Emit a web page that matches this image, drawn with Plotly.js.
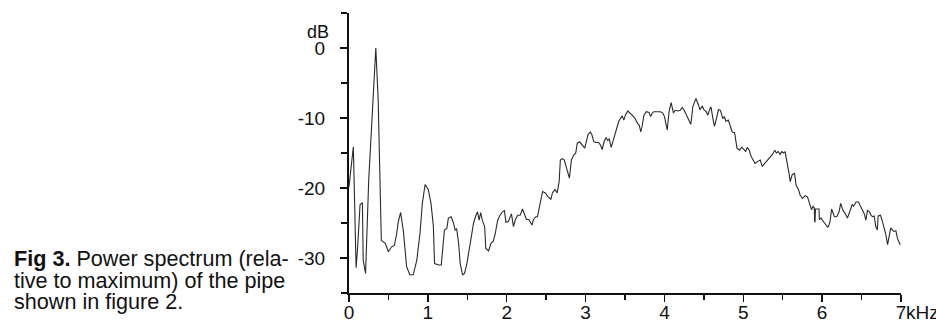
<!DOCTYPE html>
<html>
<head>
<meta charset="utf-8">
<script src="https://cdn.plot.ly/plotly-3.0.1.min.js"></script>
<style>html,body{margin:0;padding:0;background:#fff;}#chart{width:936px;height:320px;}</style>
</head>
<body>
<div id="chart"></div>
<script>
// Frequency (kHz)
const freqKHz = [0,0.055,0.09,0.11,0.14,0.17,0.18,0.21,0.25,0.31,0.34,0.37,0.41,0.46,0.50,0.54,0.575,0.605,0.625,0.655,0.69,0.73,0.77,0.815,0.86,0.90,0.93,0.965,1.005,1.04,1.07,1.085,1.135,1.17,1.185,1.21,1.24,1.26,1.295,1.325,1.345,1.365,1.39,1.41,1.44,1.465,1.495,1.535,1.58,1.61,1.63,1.65,1.67,1.69,1.72,1.735,1.77,1.80,1.83,1.855,1.885,1.915,1.945,1.97,1.99,2.02,2.045,2.06,2.085,2.11,2.14,2.17,2.20,2.225,2.25,2.28,2.32,2.34,2.37,2.39,2.42,2.455,2.49,2.52,2.56,2.58,2.61,2.64,2.665,2.68,2.705,2.73,2.76,2.795,2.82,2.85,2.875,2.895,2.925,2.955,2.99,3.03,3.06,3.08,3.105,3.135,3.165,3.19,3.21,3.235,3.26,3.28,3.30,3.325,3.355,3.39,3.42,3.44,3.465,3.485,3.505,3.535,3.565,3.60,3.63,3.66,3.68,3.70,3.72,3.74,3.77,3.805,3.825,3.845,3.865,3.91,3.95,3.98,4.0,4.035,4.06,4.085,4.115,4.135,4.17,4.20,4.225,4.25,4.28,4.31,4.335,4.36,4.40,4.43,4.45,4.48,4.50,4.53,4.55,4.57,4.59,4.615,4.635,4.66,4.685,4.71,4.74,4.76,4.78,4.81,4.835,4.86,4.89,4.92,4.95,4.98,5.01,5.03,5.05,5.075,5.10,5.13,5.15,5.185,5.215,5.24,5.28,5.30,5.34,5.37,5.40,5.42,5.445,5.465,5.49,5.51,5.53,5.56,5.58,5.595,5.62,5.65,5.67,5.70,5.72,5.75,5.785,5.815,5.84,5.865,5.885,5.90,5.905,5.91,5.915,5.96,5.965,5.985,6.03,6.07,6.08,6.10,6.12,6.155,6.185,6.215,6.235,6.265,6.295,6.32,6.35,6.38,6.40,6.43,6.46,6.485,6.51,6.535,6.555,6.575,6.60,6.62,6.64,6.66,6.68,6.70,6.71,6.74,6.765,6.785,6.805,6.83,6.85,6.87,6.89,6.91,6.935,6.955,6.99];
// Power relative to maximum (dB)
const powerDB = [-19.8,-14.1,-31.4,-28.4,-22.4,-22.1,-30.3,-32.2,-18.9,-6.0,0,-7.4,-27.5,-27.9,-29.1,-28.4,-28.2,-26.5,-24.8,-23.5,-26.2,-31.2,-32.4,-32.4,-30.3,-26.5,-22.2,-19.5,-20.2,-22.2,-25.5,-30.8,-31.0,-31.0,-29.3,-26.0,-25.8,-24.3,-24.1,-25.0,-26.0,-25.8,-27.9,-30.8,-32.4,-32.2,-30.8,-27.9,-25.0,-23.9,-23.4,-24.6,-23.5,-24.6,-25.5,-28.6,-29.0,-27.9,-27.6,-26.5,-24.6,-23.9,-23.4,-23.2,-24.9,-24.8,-24.2,-23.7,-25.5,-24.5,-23.9,-23.9,-23.0,-23.9,-24.5,-24.5,-25.3,-24.5,-24.1,-24.1,-22.2,-20.5,-20.7,-21.2,-21.6,-20.7,-20.2,-20.7,-19.1,-16.0,-15.8,-16.0,-17.2,-18.6,-16.0,-15.3,-15.0,-13.6,-13.4,-13.9,-14.3,-12.4,-12.0,-12.4,-13.4,-13.5,-13.5,-13.9,-14.5,-13.4,-12.8,-13.2,-13.0,-14.2,-12.9,-11.5,-10.5,-10.1,-9.7,-10.3,-9.6,-9.0,-9.3,-9.7,-10.1,-10.8,-11.0,-12.0,-11.0,-9.6,-9.1,-9.2,-9.8,-9.3,-9.1,-9.1,-9.1,-9.3,-9.8,-11.7,-9.0,-7.8,-9.3,-8.9,-9.0,-8.9,-8.5,-8.9,-9.6,-10.3,-10.9,-8.4,-7.2,-8.1,-8.8,-8.3,-8.8,-9.1,-9.6,-8.9,-8.4,-10.1,-11.2,-10.1,-8.8,-8.9,-10.1,-9.8,-10.5,-10.3,-11.2,-12.0,-12.1,-14.3,-14.6,-14.2,-14.5,-14.8,-14.2,-14.6,-15.5,-16.2,-16.5,-16.2,-16.0,-16.9,-16.4,-16.0,-15.6,-15.2,-14.6,-15.0,-14.8,-15.2,-14.8,-15.0,-14.8,-16.5,-17.9,-19.1,-18.1,-17.9,-19.6,-20.2,-21.0,-21.5,-21.1,-21.3,-22.4,-23.1,-22.6,-22.8,-24.8,-24.8,-23.0,-23.0,-24.5,-24.3,-25.0,-25.6,-25.5,-24.8,-23.0,-24.1,-24.1,-23.4,-22.2,-23.2,-23.7,-24.3,-23.4,-22.4,-22.6,-22.0,-22.0,-22.5,-23.2,-23.7,-24.6,-23.2,-23.4,-23.9,-24.1,-24.0,-25.5,-26.0,-24.0,-23.9,-24.8,-25.7,-26.5,-28.1,-27.0,-25.7,-26.0,-26.2,-26.1,-27.2,-28.1];

const xTickVals = [0,1,2,3,4,5,6,7];
const xTickText = ['0','1','2','3','4','5','6','7'];
const yTickVals = [0,-10,-20,-30];
const yTickText = ['0','-10','-20','-30'];
const captionLines = ['<b>Fig 3.</b> Power spectrum (rela-','tive to maximum) of the pipe','shown in figure 2.'];

const FONT = '"Liberation Sans", Arial, Helvetica, sans-serif';
const ink = '#111';

const trace = {
  x: freqKHz, y: powerDB, type: 'scatter', mode: 'lines',
  line: {color: '#2a2a2a', width: 1.1}, hoverinfo: 'skip'
};

const capY = [0.125, 0.0464, -0.031];
const annotations = captionLines.map((t, i) => ({
  text: t, xref: 'paper', yref: 'paper', x: -0.6105, y: capY[i],
  xanchor: 'left', yanchor: 'middle', showarrow: false,
  font: {family: FONT, size: 21.6, color: ink}
}));
annotations.push({text: 'dB', xref: 'paper', yref: 'paper', x: -0.057, y: 0.932,
  xanchor: 'center', yanchor: 'middle', showarrow: false, font: {family: FONT, size: 18, color: ink}});
annotations.push({text: 'kHz', xref: 'x', yref: 'paper', x: 7, y: -0.068, xshift: 3,
  xanchor: 'left', yanchor: 'middle', showarrow: false, font: {family: FONT, size: 19, color: ink}});

const layout = {
  width: 936, height: 320,
  margin: {l: 349, r: 35, t: 13, b: 27},
  paper_bgcolor: '#fff', plot_bgcolor: '#fff',
  showlegend: false,
  font: {family: FONT, size: 19, color: ink},
  xaxis: {
    range: [0, 7], showgrid: false, zeroline: false,
    showline: true, linecolor: ink, linewidth: 2,
    tickmode: 'array', tickvals: xTickVals, ticktext: xTickText,
    ticks: 'outside', ticklen: 7, tickwidth: 1.5, tickcolor: ink,
    ticklabelstandoff: -6,
    minor: {dtick: 0.5, tick0: 0, ticks: 'outside', ticklen: 5, tickwidth: 1.5, tickcolor: ink, showgrid: false},
    tickfont: {family: FONT, size: 19, color: ink}
  },
  yaxis: {
    range: [-35, 5], showgrid: false, zeroline: false,
    showline: true, linecolor: ink, linewidth: 2,
    tickmode: 'array', tickvals: yTickVals, ticktext: yTickText,
    ticks: 'outside', ticklen: 7, tickwidth: 1.5, tickcolor: ink,
    ticklabelstandoff: 11,
    minor: {dtick: 5, tick0: 0, ticks: 'outside', ticklen: 6, tickwidth: 1.5, tickcolor: ink, showgrid: false},
    tickfont: {family: FONT, size: 19, color: ink}
  },
  annotations: annotations
};

Plotly.newPlot('chart', [trace], layout, {staticPlot: true, displayModeBar: false});
</script>
</body>
</html>
